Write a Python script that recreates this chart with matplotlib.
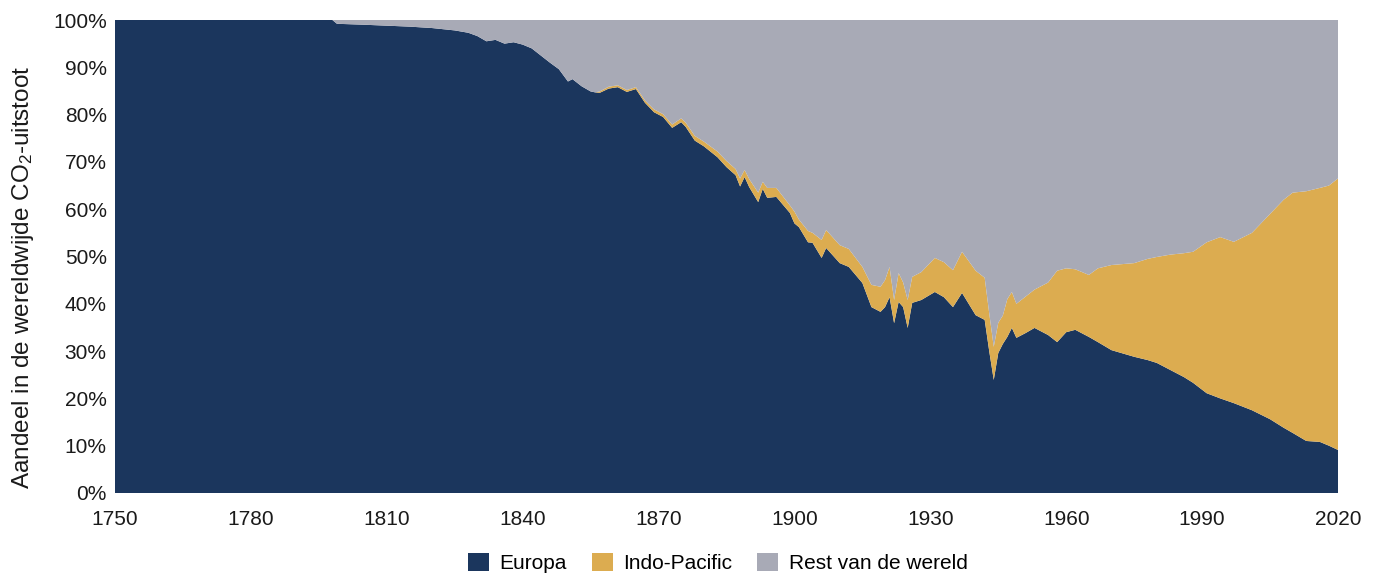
import matplotlib
matplotlib.use("Agg")
import matplotlib.pyplot as plt
import numpy as np

years = [1750, 1798, 1799, 1805, 1810, 1815, 1820, 1825, 1828, 1830, 1832, 1834, 1836, 1838,
         1840, 1842, 1844, 1846, 1848, 1850, 1851, 1853, 1855, 1856, 1857, 1859, 1861, 1863,
         1865, 1867, 1869, 1871, 1873, 1875, 1876, 1878, 1880, 1883, 1885, 1887, 1888, 1889,
         1890, 1892, 1893, 1894, 1896, 1899, 1900, 1901, 1903, 1904, 1906, 1907, 1910, 1912,
         1915, 1917, 1919, 1920, 1921, 1922, 1923, 1924, 1925, 1926, 1928, 1931, 1933, 1935,
         1937, 1940, 1942, 1943, 1944, 1945, 1946, 1947, 1948, 1949, 1951, 1953, 1956, 1958,
         1960, 1962, 1965, 1967, 1970, 1975, 1978, 1980, 1983, 1986, 1988, 1991, 1994, 1997,
         2001, 2005, 2008, 2010, 2013, 2016, 2018, 2020]

europa = [100, 100, 99.2, 99.0, 98.8, 98.6, 98.3, 97.8, 97.3, 96.6, 95.5, 95.8, 95.0, 95.3,
          94.8, 94.0, 92.5, 91.0, 89.6, 87.0, 87.5, 86.0, 84.9, 84.7, 84.6, 85.5, 85.8, 84.8,
          85.4, 82.5, 80.5, 79.5, 77.2, 78.4, 77.4, 74.5, 73.3, 71.0, 68.9, 67.2, 64.8, 66.8,
          64.7, 61.5, 64.3, 62.4, 62.6, 59.2, 57.0, 56.2, 53.0, 52.9, 49.7, 51.8, 48.6, 47.8,
          44.4, 39.3, 38.3, 39.3, 41.4, 35.9, 40.4, 39.3, 34.9, 40.2, 40.8, 42.5, 41.4, 39.3,
          42.3, 37.6, 36.6, 30.0, 23.9, 29.6, 31.5, 33.0, 34.9, 32.8, 33.8, 34.9, 33.4, 31.9,
          34.0, 34.5, 33.0, 31.9, 30.2, 28.8, 28.1, 27.5, 26.0, 24.5, 23.3, 21.1, 20.0, 19.0,
          17.5, 15.6, 13.8, 12.7, 11.0, 10.8, 10.0, 9.1]

indo_pacific = [0, 0, 0, 0, 0, 0, 0, 0, 0, 0, 0, 0, 0, 0,
                0, 0, 0, 0, 0, 0, 0, 0, 0, 0, 0.3, 0.4, 0.4, 0.4,
                0.4, 0.5, 0.6, 0.6, 0.7, 0.8, 0.9, 1.0, 1.0, 1.2, 1.3, 1.3, 1.7, 1.5,
                1.7, 2.0, 1.5, 2.1, 1.9, 1.6, 2.5, 1.6, 2.4, 2.1, 3.8, 3.8, 3.8, 3.8,
                3.4, 4.7, 5.3, 5.7, 6.4, 4.9, 6.1, 5.2, 5.9, 5.5, 5.9, 7.2, 7.4, 7.8,
                8.7, 9.4, 8.9, 8.0, 7.0, 6.4, 6.0, 8.0, 7.6, 7.2, 7.7, 8.1, 11.1, 15.1,
                13.5, 12.8, 13.1, 15.6, 18.0, 19.8, 21.4, 22.4, 24.4, 26.2, 27.7, 31.9, 34.1, 34.1,
                37.5, 43.4, 48.2, 50.8, 52.8, 53.7, 55.0, 57.4]

rest = [100 - e - i for e, i in zip(europa, indo_pacific)]

labels = ["Europa", "Indo-Pacific", "Rest van de wereld"]
colors = ["#1b365d", "#dcac50", "#a8aab6"]
xticks = [1750, 1780, 1810, 1840, 1870, 1900, 1930, 1960, 1990, 2020]
yticks = [0, 10, 20, 30, 40, 50, 60, 70, 80, 90, 100]

plt.rcParams['font.family'] = ['Liberation Sans', 'DejaVu Sans']
plt.rcParams['mathtext.fontset'] = 'custom'
plt.rcParams['mathtext.rm'] = 'Liberation Sans'
plt.rcParams['mathtext.it'] = 'Liberation Sans'

fig = plt.figure(figsize=(13.8, 5.74), dpi=100)
ax = fig.add_axes([115/1380, 1-493/574, (1338-115)/1380, (493-20)/574])

ax.stackplot(years, europa, indo_pacific, rest, colors=colors, labels=labels, linewidth=0)
ax.set_xlim(1750, 2020)
ax.set_ylim(0, 100)
ax.set_xticks(xticks)
ax.set_xticklabels([str(x) for x in xticks])
ax.set_yticks(yticks)
ax.set_yticklabels([f"{y}%" for y in yticks])
ax.tick_params(axis='both', length=0, labelsize=15, colors='#1a1a1a')
ax.tick_params(axis='x', pad=12)
ax.tick_params(axis='y', pad=6)
for s in ax.spines.values():
    s.set_visible(False)

ax.set_ylabel("Aandeel in de wereldwijde CO$_2$-uitstoot", fontsize=17.5, color='#1a1a1a')
ax.yaxis.set_label_coords((36-115)/1223, (493-277)/473)

handles, labs = ax.get_legend_handles_labels()
fig.legend(handles, labs, loc='center', bbox_to_anchor=(718/1380, 1-563/574), ncol=3,
           frameon=False, fontsize=15, handlelength=1.0, handleheight=1.0,
           handletextpad=0.5, columnspacing=1.2, borderaxespad=0)

fig.savefig("out.png", dpi=100)
